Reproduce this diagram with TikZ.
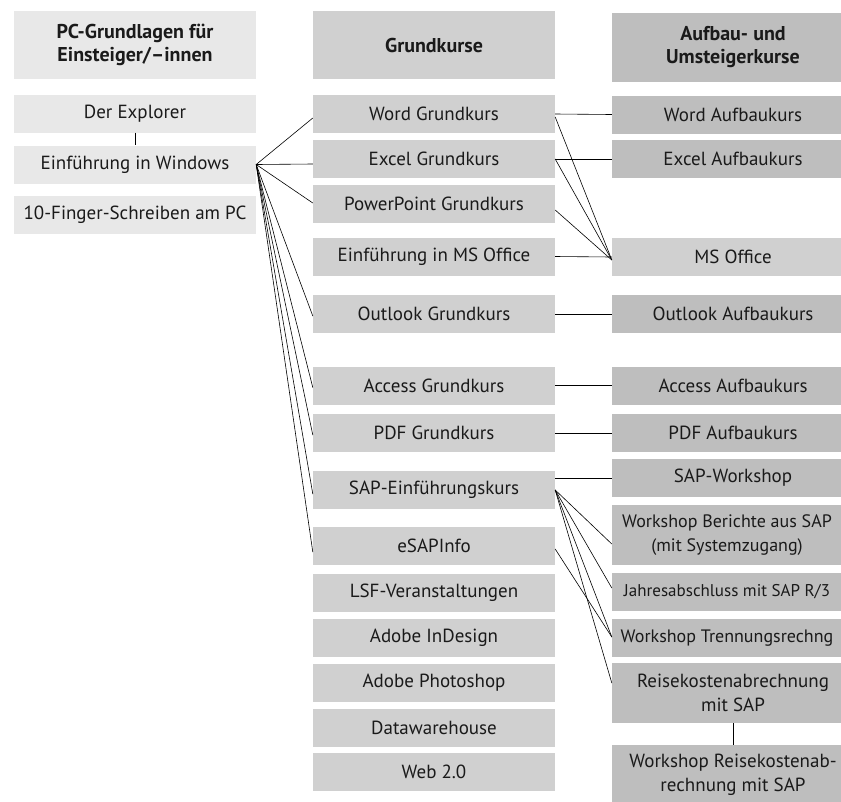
\documentclass[tikz,border=0pt]{standalone}
\usepackage{fontspec}
\setmainfont{PT Sans}
\definecolor{cone}{HTML}{E8E8E8}
\definecolor{ctwo}{HTML}{D0D0D0}
\definecolor{cthree}{HTML}{BEBEBE}
\definecolor{txt}{HTML}{1A1A1A}
\begin{document}
\begin{tikzpicture}[x=1pt,y=-1pt,
  box/.style={rectangle, inner sep=0pt, minimum width=242pt, minimum height=38pt,
    align=center, text=txt, font=\fontsize{19}{23.5}\selectfont},
  boxone/.style={box, fill=cone},
  boxtwo/.style={box, fill=ctwo},
  boxthree/.style={box, fill=cthree},
  tall/.style={minimum height=60pt},
  head/.style={minimum height=68pt, font=\bfseries\fontsize{20}{23}\selectfont},
  fitlabel/.style={inner sep=0pt, align=center, text=txt, font=\fontsize{18}{23.5}\selectfont},
  con/.style={draw=black, line width=0.6pt}]
\useasboundingbox (0,0) rectangle (841,801);
\clip (0,0) rectangle (841,801);
\fill[white] (0,0) rectangle (841,801);
% column 1
\node[boxone, head] (h1) at (135,45) {PC-Grundlagen für\\Einsteiger/–innen};
\node[boxone] (expl) at (135,113.5) {Der Explorer};
\node[boxone] (win) at (135,164.5) {Einführung in Windows};
\node[boxone] (ten) at (135,214.5) {10-Finger-Schreiben am PC};
% column 2
\node[boxtwo, head] (h2) at (434,45) {Grundkurse};
\node[boxtwo] (word) at (434,114) {Word Grundkurs};
\node[boxtwo] (excel) at (434,159) {Excel Grundkurs};
\node[boxtwo] (ppt) at (434,204) {PowerPoint Grundkurs};
\node[boxtwo] (mse) at (434,256.5) {Einführung in MS Office};
\node[boxtwo] (outl) at (434,314) {Outlook Grundkurs};
\node[boxtwo] (acc) at (434,385.5) {Access Grundkurs};
\node[boxtwo] (pdf) at (434,433) {PDF Grundkurs};
\node[boxtwo] (sap) at (434,490) {SAP-Einführungskurs};
\node[boxtwo] (esap) at (434,546) {eSAPInfo};
\node[boxtwo] (lsf) at (434,592.5) {LSF-Veranstaltungen};
\node[boxtwo] (ind) at (434,638) {Adobe InDesign};
\node[boxtwo] (phs) at (434,683) {Adobe Photoshop};
\node[boxtwo] (dwh) at (434,728) {Datawarehouse};
\node[boxtwo] (web) at (434,772) {Web 2.0};
% column 3
\node[boxthree, head, minimum height=69pt] (h3) at (733,47.5) {Aufbau- und\\Umsteigerkurse};
\node[boxthree] (worda) at (733,114.5) {Word Aufbaukurs};
\node[boxthree] (excela) at (733,159) {Excel Aufbaukurs};
\node[boxtwo] (mso) at (733,257) {MS Office};
\node[boxthree] (outla) at (733,314) {Outlook Aufbaukurs};
\node[boxthree] (acca) at (733,385.5) {Access Aufbaukurs};
\node[boxthree] (pdfa) at (733,433) {PDF Aufbaukurs};
\node[boxthree] (sapw) at (733,478) {SAP-Workshop};
\node[boxthree, tall] (ber) at (733,535) {};
\node[fitlabel] (berl) at (727,535) {Workshop Berichte aus SAP\\(mit Systemzugang)};
\node[boxthree] (jah) at (733,592) {};
\node[fitlabel, font=\fontsize{17}{23}\selectfont] (jahl) at (727,592) {Jahresabschluss mit SAP R/3};
\node[boxthree] (tre) at (733,638) {};
\node[fitlabel] (trel) at (727,638) {Workshop Trennungsrechng};
\node[boxthree, tall] (rei) at (733,693) {Reisekostenabrechnung\\mit SAP};
\node[boxthree, tall] (wrei) at (733,775) {Workshop Reisekostenab-\\rechnung mit SAP};
% connectors column 1
\draw[con] (expl.south) -- (win.north);
\draw[con] (win.east) -- ([yshift=-4pt]word.west);
\draw[con] (win.east) -- ([yshift=-5pt]excel.west);
\draw[con] (win.east) -- ([yshift=1pt]ppt.west);
\draw[con] (win.east) -- ([yshift=-2pt]outl.west);
\draw[con] (win.east) -- ([yshift=-2pt]acc.west);
\draw[con] (win.east) -- ([yshift=-2pt]pdf.west);
\draw[con] (win.east) -- ([yshift=-4pt]sap.west);
\draw[con] (win.east) -- ([yshift=-6pt]esap.west);
% connectors column 2 -> 3
\draw[con] (word.east) -- (worda.west);
\draw[con] (excel.east) -- (excela.west);
\draw[con] (mse.east) -- (mso.west);
\draw[con] (outl.east) -- (outla.west);
\draw[con] (acc.east) -- (acca.west);
\draw[con] (pdf.east) -- (pdfa.west);
\draw[con] ([yshift=-3pt]word.east) -- ([yshift=-3pt]mso.west);
\draw[con] (excel.east) -- ([yshift=-3pt]mso.west);
\draw[con] ([yshift=-6pt]ppt.east) -- ([yshift=-3pt]mso.west);
\draw[con] (sapw.west -| sap.east) -- (sapw.west);
\draw[con] (sap.east) -- ([yshift=-9pt]ber.west);
\draw[con] (sap.east) -- ([yshift=4pt]jah.west);
\draw[con] (sap.east) -- ([yshift=1pt]tre.west);
\draw[con] (sap.east) -- ([yshift=10pt]rei.west);
\draw[con] ([yshift=-3pt]esap.east) -- ([yshift=1pt]tre.west);
\draw[con] (rei.south) -- (wrei.north);
\end{tikzpicture}
\end{document}
